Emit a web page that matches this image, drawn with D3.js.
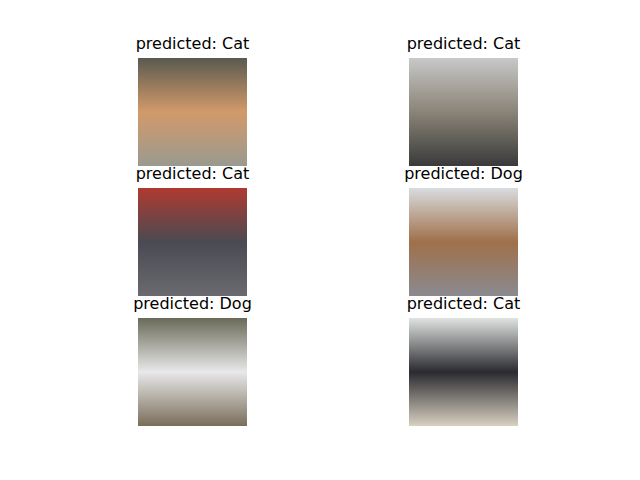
<!DOCTYPE html>
<html><head><meta charset="utf-8">
<script src="https://cdn.jsdelivr.net/npm/d3@7"></script>
<style>body{margin:0;background:#fff}</style></head>
<body><svg id="c" width="640" height="480"></svg>
<script>
const labels = ["Cat","Cat","Cat","Dog","Dog","Cat"];
// approximate dominant tones of each photo (top, middle, bottom)
const tones = [
  ["#5a5a50","#d29a6a","#9a9a90"],
  ["#c8c8c8","#8a8478","#3a3a3a"],
  ["#b03a30","#4a4a52","#6a6a70"],
  ["#d8dce0","#a0704a","#8a8a90"],
  ["#6a6a58","#e8e8ea","#7a6e5a"],
  ["#e0e4e0","#2a2a30","#d8d0c0"]
];
const svg = d3.select("#c");
const defs = svg.append("defs");
const colX = d3.scaleOrdinal().domain([0,1]).range([138,409]);
const rowY = d3.scaleOrdinal().domain([0,1,2]).range([58,188,318]);
const size = 109;
labels.forEach((lab,i)=>{
  const r = Math.floor(i/2), c = i%2;
  const g = defs.append("linearGradient").attr("id","g"+i).attr("x1",0).attr("y1",0).attr("x2",0).attr("y2",1);
  tones[i].forEach((t,k)=>g.append("stop").attr("offset",k/2).attr("stop-color",t));
  svg.append("rect").attr("x",colX(c)).attr("y",rowY(r)).attr("width",size).attr("height",size-1)
    .attr("fill","url(#g"+i+")");
  svg.append("text").attr("x",colX(c)+size/2).attr("y",rowY(r)-9)
    .attr("text-anchor","middle").attr("font-family","DejaVu Sans").attr("font-size",16)
    .text("predicted: "+lab);
});
</script></body></html>
